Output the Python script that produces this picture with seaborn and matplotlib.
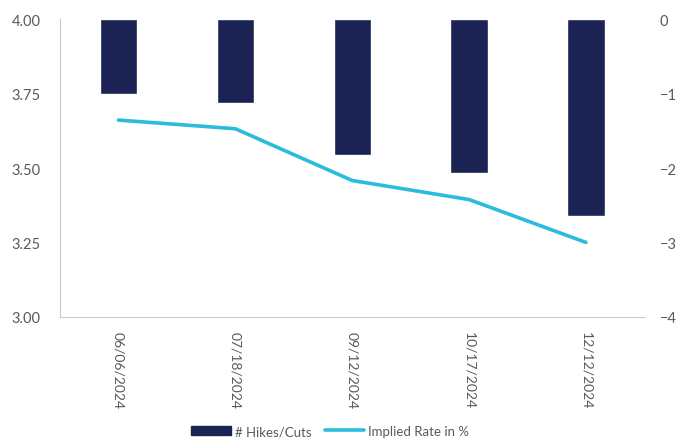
import pandas as pd
import matplotlib.pyplot as plt
import seaborn as sns
from matplotlib.patches import Patch
from matplotlib.lines import Line2D

# ========== DATA ==========
meetings = ["06/06/2024", "07/18/2024", "09/12/2024", "10/17/2024", "12/12/2024"]
hikes_cuts = [-1.01, -1.13, -1.82, -2.07, -2.64]
implied_rate = [3.661, 3.632, 3.458, 3.394, 3.25]

BAR_COLOR = "#1b2254"
LINE_COLOR = "#2bbcdc"
TEXT_COLOR = "#595959"
AXIS_COLOR = "#bfc9d9"

df = pd.DataFrame({"Meeting": meetings, "Hikes": hikes_cuts, "Rate": implied_rate})

# ========== PLOT ==========
sns.set_style("white")
plt.rcParams["font.family"] = ["Lato", "DejaVu Sans"]

fig = plt.figure(figsize=(6.78, 4.39), dpi=100)
ax = fig.add_axes([0.0885, 0.276, 0.862, 0.678])
ax2 = ax.twinx()

# bars on the right axis, drawn behind the line
sns.barplot(x="Meeting", y="Hikes", data=df, color=BAR_COLOR, width=0.32,
            saturation=1, ax=ax2)
ax2.set_zorder(ax.get_zorder() - 1)
ax.patch.set_visible(False)

# implied rate on the left axis
sns.lineplot(x="Meeting", y="Rate", data=df, color=LINE_COLOR, linewidth=2.6, ax=ax,
             solid_capstyle="round")

ax.set_ylim(3.0, 4.0)
ax.set_yticks([3.0, 3.25, 3.5, 3.75, 4.0])
ax.set_yticklabels(["3.00", "3.25", "3.50", "3.75", "4.00"])
ax2.set_ylim(-4, 0)
ax2.set_yticks([-4, -3, -2, -1, 0])
ax.set_xlim(-0.5, 4.5)
ax2.set_xlim(-0.5, 4.5)

for a in (ax, ax2):
    a.set_xlabel("")
    a.set_ylabel("")
    for s in a.spines.values():
        s.set_visible(False)

ax.spines["left"].set_visible(True)
ax.spines["left"].set_color(AXIS_COLOR)
ax.spines["bottom"].set_visible(True)
ax.spines["bottom"].set_color(AXIS_COLOR)

ax.tick_params(axis="y", length=0, labelsize=10.5, labelcolor=TEXT_COLOR, pad=14)
ax2.tick_params(axis="y", length=0, labelsize=10.5, labelcolor=TEXT_COLOR, pad=11)
ax2.tick_params(axis="x", length=0, labelbottom=False)

ax.set_xticks(range(len(meetings)))
ax.set_xticklabels(meetings, rotation=-90, fontsize=10, color=TEXT_COLOR)
ax.set_xticks([i - 0.5 for i in range(len(meetings) + 1)], minor=True)
ax.tick_params(axis="x", which="major", length=0, pad=10)
ax.tick_params(axis="x", which="minor", length=5, color=AXIS_COLOR, width=1)

handles = [Patch(color=BAR_COLOR, label="# Hikes/Cuts"),
           Line2D([0], [0], color=LINE_COLOR, linewidth=2.6, label="Implied Rate in %")]
fig.legend(handles=handles, loc="lower center", bbox_to_anchor=(0.487, -0.025), ncol=2,
           frameon=False, fontsize=9.5, labelcolor=TEXT_COLOR, handlelength=3.0,
           handleheight=0.7, columnspacing=1.0, handletextpad=0.3)

plt.savefig("out.png", dpi=100)
